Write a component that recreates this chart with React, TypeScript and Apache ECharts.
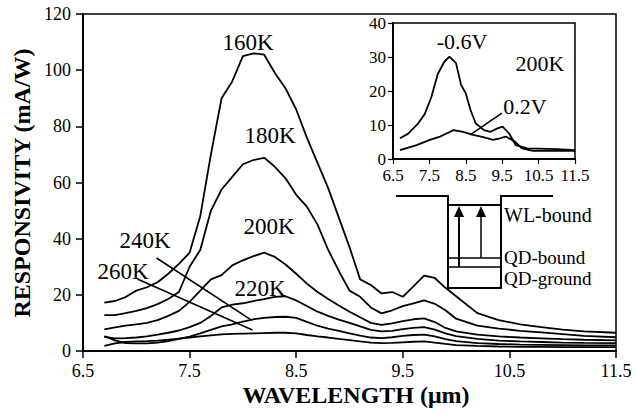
import React, { useEffect, useRef } from "react";
import * as echarts from "echarts";

const wavelengths = [6.7, 6.8, 6.9, 7.0, 7.1, 7.2, 7.3, 7.4, 7.5, 7.6, 7.7, 7.8, 7.9, 8.0, 8.1, 8.2, 8.3, 8.4, 8.5, 8.6, 8.7, 8.8, 8.9, 9.0, 9.1, 9.2, 9.3, 9.4, 9.5, 9.6, 9.7, 9.8, 9.9, 10.0, 10.2, 10.4, 10.6, 10.8, 11.0, 11.2, 11.5];

const r160K = [17.2, 17.8, 19.2, 21.5, 22.7, 24.5, 27.5, 31, 35, 48, 70, 90, 96, 105, 106, 105.5, 99, 93.5, 86, 76, 67, 58, 47.5, 37, 25.5, 23.5, 20.5, 21, 19.3, 23, 26.8, 26, 22.5, 19.5, 13.5, 11, 9.5, 8.5, 7.6, 7, 6.5];
const r180K = [12.8, 12.8, 13.5, 14.3, 15.3, 16.7, 18.5, 21, 30, 36, 50, 57.5, 62, 66.5, 68, 68.8, 65.6, 61.5, 55.6, 51.4, 45, 36, 28.5, 21.5, 19.3, 15.5, 13.4, 14.5, 16, 17, 18, 16.8, 14.5, 11.5, 9, 8, 7.2, 6.6, 6, 5.4, 4.9];
const r200K = [7.7, 8.4, 9, 9.5, 10, 11, 12.5, 14.3, 17.5, 21.5, 25.5, 27, 30.5, 32.3, 33.8, 35, 33.5, 30.8, 27.5, 24, 21, 18.5, 16.2, 14, 12, 10, 9.3, 9.8, 10.6, 11.3, 11.6, 10.3, 8.2, 7, 5.8, 5.2, 4.8, 4.5, 4.2, 4, 3.8];
const r220K = [5.0, 4.5, 4.6, 4.8, 5.2, 5.8, 6.5, 7.3, 8.5, 10, 12.5, 15.5, 16.5, 17, 17.8, 18.5, 19.3, 19.5, 18, 16, 14, 12.5, 11.2, 10, 8.8, 7.5, 7, 7.2, 7.8, 8.2, 8.5, 7.6, 6.3, 5.3, 4.3, 3.7, 3.4, 3.2, 3, 2.9, 2.8];
const r240K = [5.3, 3.8, 2.8, 2.7, 2.7, 3.0, 3.5, 4.3, 5.1, 6.3, 7.5, 8.8, 9.5, 10.5, 11.3, 11.8, 12.1, 12.2, 11.8, 10.4, 9, 8, 7.2, 6.3, 5.5, 4.8, 4.6, 4.9, 5.4, 5.7, 5.8, 5.2, 4.2, 3.5, 2.8, 2.5, 2.3, 2.2, 2.1, 2.0, 2.0];
const r260K = [1.8, 2.7, 3.2, 3.4, 3.5, 3.7, 4.0, 4.4, 4.8, 5.2, 5.6, 5.9, 6.1, 6.2, 6.3, 6.4, 6.5, 6.5, 6.3, 5.7, 5.2, 4.8, 4.3, 3.9, 3.4, 3.0, 2.8, 2.9, 3.1, 3.3, 3.4, 3.0, 2.5, 2.1, 1.8, 1.6, 1.5, 1.5, 1.4, 1.4, 1.4];

const insetWlNeg = [6.69, 6.91, 7.18, 7.37, 7.55, 7.73, 7.91, 8.05, 8.23, 8.37, 8.5, 8.63, 8.77, 9.0, 9.18, 9.37, 9.51, 9.69, 9.87, 10.19, 11.0, 11.5];
const insetNeg06V = [6.1, 7.4, 10.3, 13.2, 18.1, 25, 28.6, 30.1, 28.2, 21.8, 19.3, 14.4, 10.5, 8.5, 8, 9, 9.5, 7.5, 4.1, 3.1, 2.9, 2.6];
const insetWlPos = [6.69, 7.15, 7.51, 7.79, 7.97, 8.16, 8.43, 8.7, 8.98, 9.25, 9.44, 9.6, 9.85, 10.04, 10.35, 11.5];
const insetPos02V = [2.6, 4.1, 5.6, 6.6, 7.5, 8.5, 8, 7.1, 6.4, 5.6, 6.1, 6.6, 5.1, 3.1, 2.4, 2.4];

const mainXTicks = [6.5, 7.5, 8.5, 9.5, 10.5, 11.5];
const mainYTicks = [0, 20, 40, 60, 80, 100, 120];

const SERIF = "'Liberation Serif', 'Times New Roman', serif";

function pairs(xs: number[], ys: number[]) {
  return xs.map((x, i) => [x, ys[i]]);
}

export default function App() {
  const ref = useRef<HTMLDivElement>(null);
  useEffect(() => {
    document.body.style.margin = "0";
    const chart = echarts.init(ref.current!, null, { renderer: "svg" });
    const lineStyle = { color: "#000", width: 1.8 };
    const axisCommon = (fs: number, margin: number) => ({
      axisLine: { show: true, lineStyle: { color: "#000", width: 2 } },
      axisTick: { show: true, inside: false, length: 7, lineStyle: { color: "#000", width: 1.5 } },
      splitLine: { show: false },
      axisLabel: { color: "#000", fontFamily: SERIF, fontSize: fs, margin },
    });
    const mainSeries = [
      { name: "160K", d: r160K },
      { name: "180K", d: r180K },
      { name: "200K", d: r200K },
      { name: "220K", d: r220K },
      { name: "240K", d: r240K },
      { name: "260K", d: r260K },
    ].map((s, idx) => ({
      type: "line",
      name: s.name,
      xAxisIndex: 0,
      yAxisIndex: 0,
      data: pairs(wavelengths, s.d),
      showSymbol: false,
      symbol: "none",
      lineStyle,
      z: 3,
      ...(idx === 0
        ? {
            markLine: {
              silent: true,
              symbol: ["none", "none"],
              label: { show: false },
              lineStyle: { color: "#000", width: 1.6, type: "solid" },
              data: [
                [{ coord: [7.19, 33.1] }, { coord: [8.08, 11.0] }],
                [{ coord: [7.01, 25.6] }, { coord: [8.09, 7.5] }],
              ],
            },
          }
        : {}),
    }));

    const diagramLine = { stroke: "#000", lineWidth: 2 };
    const thin = { stroke: "#000", lineWidth: 1.3 };

    chart.setOption({
      animation: false,
      backgroundColor: "#fff",
      grid: [
        { left: 83, top: 14, width: 533, height: 337, show: true, borderColor: "#000", borderWidth: 1.5, backgroundColor: "transparent" },
        { left: 393, top: 23, width: 182, height: 136, show: true, borderColor: "#000", borderWidth: 1.5, backgroundColor: "transparent" },
      ],
      xAxis: [
        {
          type: "value", gridIndex: 0, min: 6.5, max: 11.5, interval: 1,
          ...axisCommon(18, 11),
          axisLabel: { color: "#000", fontFamily: SERIF, fontSize: 18, margin: 11, formatter: (v: number) => (mainXTicks.includes(v) ? v.toFixed(1) : "") },
        },
        {
          type: "value", gridIndex: 1, min: 6.5, max: 11.5, interval: 1,
          ...axisCommon(17, 8),
          axisTick: { show: true, length: 5, lineStyle: { color: "#000", width: 1.2 } },
          axisLabel: { color: "#000", fontFamily: SERIF, fontSize: 17, margin: 8, formatter: (v: number) => v.toFixed(1) },
        },
      ],
      yAxis: [
        {
          type: "value", gridIndex: 0, min: 0, max: 120, interval: 20,
          ...axisCommon(18, 12),
          axisLabel: { color: "#000", fontFamily: SERIF, fontSize: 18, margin: 12, formatter: (v: number) => (mainYTicks.includes(v) ? String(v) : "") },
        },
        {
          type: "value", gridIndex: 1, min: 0, max: 40, interval: 10,
          ...axisCommon(17, 7),
          axisTick: { show: true, length: 5, lineStyle: { color: "#000", width: 1.2 } },
          axisLabel: { color: "#000", fontFamily: SERIF, fontSize: 17, margin: 7, lineHeight: 15 },
        },
      ],
      series: [
        ...mainSeries,
        {
          type: "line", name: "-0.6V", xAxisIndex: 1, yAxisIndex: 1,
          data: pairs(insetWlNeg, insetNeg06V), symbol: "none", showSymbol: false, lineStyle,
        },
        {
          type: "line", name: "0.2V", xAxisIndex: 1, yAxisIndex: 1,
          data: pairs(insetWlPos, insetPos02V), symbol: "none", showSymbol: false, lineStyle,
          markLine: {
            silent: true,
            symbol: ["none", "none"],
            label: { show: false },
            lineStyle: { color: "#000", width: 1.5, type: "solid" },
            data: [[{ coord: [9.49, 13.5] }, { coord: [8.62, 7.1] }]],
          },
        },
      ],
      graphic: [
        { type: "text", x: 22, y: 183, rotation: Math.PI / 2, style: { text: "RESPONSIVITY (mA/W)", font: `bold 24px ${SERIF}`, fill: "#000", textAlign: "center", textVerticalAlign: "middle" } },
        { type: "text", x: 356, y: 395, style: { text: "WAVELENGTH (\u03bcm)", font: `bold 24px ${SERIF}`, fill: "#000", textAlign: "center", textVerticalAlign: "middle" } },
        { type: "text", x: 248, y: 42, style: { text: "160K", font: `23px ${SERIF}`, fill: "#000", textAlign: "center", textVerticalAlign: "middle" } },
        { type: "text", x: 270, y: 135, style: { text: "180K", font: `23px ${SERIF}`, fill: "#000", textAlign: "center", textVerticalAlign: "middle" } },
        { type: "text", x: 269, y: 226, style: { text: "200K", font: `23px ${SERIF}`, fill: "#000", textAlign: "center", textVerticalAlign: "middle" } },
        { type: "text", x: 260, y: 288, style: { text: "220K", font: `23px ${SERIF}`, fill: "#000", textAlign: "center", textVerticalAlign: "middle" } },
        { type: "text", x: 145, y: 240, style: { text: "240K", font: `23px ${SERIF}`, fill: "#000", textAlign: "center", textVerticalAlign: "middle" } },
        { type: "text", x: 123, y: 271, style: { text: "260K", font: `23px ${SERIF}`, fill: "#000", textAlign: "center", textVerticalAlign: "middle" } },
        { type: "text", x: 462, y: 41, style: { text: "-0.6V", font: `22px ${SERIF}`, fill: "#000", textAlign: "center", textVerticalAlign: "middle" } },
        { type: "text", x: 540, y: 63, style: { text: "200K", font: `22px ${SERIF}`, fill: "#000", textAlign: "center", textVerticalAlign: "middle" } },
        { type: "text", x: 525, y: 106, style: { text: "0.2V", font: `22px ${SERIF}`, fill: "#000", textAlign: "center", textVerticalAlign: "middle" } },
        // energy diagram
        { type: "polyline", shape: { points: [[396, 196], [448, 196], [448, 205], [501, 205], [501, 196], [553, 196]] }, style: { ...diagramLine, fill: "none" } },
        { type: "polyline", shape: { points: [[448, 196], [448, 288], [501, 288], [501, 196]] }, style: { ...diagramLine, fill: "none" } },
        { type: "line", shape: { x1: 448, y1: 258, x2: 501, y2: 258 }, style: thin },
        { type: "line", shape: { x1: 448, y1: 267, x2: 501, y2: 267 }, style: thin },
        { type: "line", shape: { x1: 459, y1: 267, x2: 459, y2: 214 }, style: diagramLine },
        { type: "polygon", shape: { points: [[459, 206], [454, 217], [464, 217]] }, style: { fill: "#000" } },
        { type: "line", shape: { x1: 481, y1: 258, x2: 481, y2: 214 }, style: { stroke: "#000", lineWidth: 1.5 } },
        { type: "polygon", shape: { points: [[481, 206], [476, 217], [486, 217]] }, style: { fill: "#000" } },
        { type: "text", x: 504, y: 215, style: { text: "WL-bound", font: `20px ${SERIF}`, fill: "#000", textAlign: "left", textVerticalAlign: "middle" } },
        { type: "text", x: 504, y: 257, style: { text: "QD-bound", font: `19px ${SERIF}`, fill: "#000", textAlign: "left", textVerticalAlign: "middle" } },
        { type: "text", x: 504, y: 278, style: { text: "QD-ground", font: `19px ${SERIF}`, fill: "#000", textAlign: "left", textVerticalAlign: "middle" } },
      ],
    });
    return () => chart.dispose();
  }, []);
  return <div ref={ref} style={{ width: 636, height: 420 }} />;
}
